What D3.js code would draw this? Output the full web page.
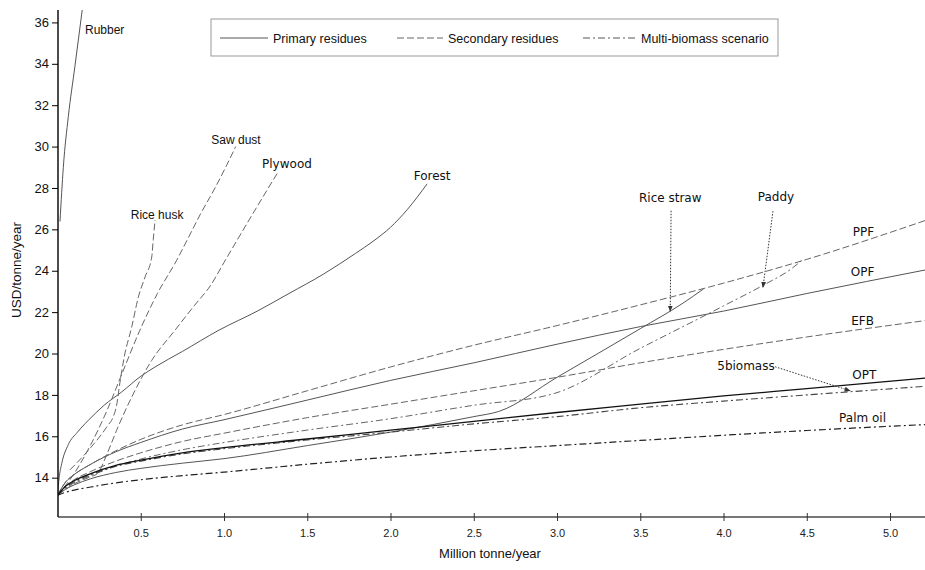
<!DOCTYPE html>
<html><head><meta charset="utf-8">
<script src="https://cdn.jsdelivr.net/npm/d3@7"></script>
<style>body{margin:0;background:#fff}</style>
</head><body>
<svg id="c" width="925" height="570"></svg>
<script>
// ---- data ----
const yTicks = [14,16,18,20,22,24,26,28,30,32,34,36];
const xTicks = [0.5,1.0,1.5,2.0,2.5,3.0,3.5,4.0,4.5,5.0];
const legendLabels = ["Primary residues","Secondary residues","Multi-biomass scenario"];

const rubber = [[0.015,26.38],[0.035,29.0],[0.065,31.45],[0.105,33.9],[0.15,36.7]];
const forest = [[0,13.15],[0.01,14.0],[0.025,14.67],[0.065,15.6],[0.12,16.2],[0.185,16.77],[0.28,17.5],[0.385,18.14],[0.5,18.9],[0.586,19.35],[0.75,20.1],[0.97,21.13],[1.2,22.05],[1.39,22.9],[1.6,23.85],[1.79,24.84],[1.9,25.45],[2.0,26.1],[2.1,26.95],[2.22,28.2]];
const opf = [[0,13.15],[0.05,13.8],[0.1,14.15],[0.2,14.65],[0.35,15.25],[0.5,15.7],[0.75,16.35],[1.0,16.8],[1.5,17.75],[2.0,18.7],[2.5,19.55],[3.0,20.45],[3.5,21.3],[4.0,22.05],[4.5,22.9],[5.22,24.05]];
const opt = [[0,13.15],[0.05,13.6],[0.1,13.85],[0.2,14.2],[0.35,14.6],[0.5,14.85],[0.75,15.2],[1.0,15.45],[1.5,15.87],[2.0,16.3],[2.5,16.72],[3.0,17.15],[3.5,17.55],[4.0,17.95],[4.5,18.3],[5.22,18.82]];
const riceStraw = [[0,13.15],[0.05,13.45],[0.1,13.65],[0.2,13.95],[0.35,14.25],[0.5,14.45],[0.75,14.7],[1.0,14.92],[1.5,15.55],[2.0,16.2],[2.5,16.95],[2.65,17.2],[3.0,18.85],[3.5,21.2],[3.75,22.4],[3.88,23.12]];

const riceHusk = [[0.075,14.38],[0.185,15.32],[0.3,16.5],[0.335,16.95],[0.355,17.5],[0.375,18.6],[0.4,19.8],[0.446,21.29],[0.486,22.74],[0.526,23.7],[0.566,24.67],[0.575,25.5],[0.586,26.45]];
const sawDust = [[0,13.15],[0.1,14.2],[0.2,15.6],[0.3,17.3],[0.386,19.0],[0.495,21.13],[0.6,22.9],[0.716,24.51],[0.786,25.6],[0.856,26.7],[0.946,28.0],[1.016,29.1],[1.07,30.0]];
const plywood = [[0,13.15],[0.1,13.7],[0.2,14.05],[0.24,14.2],[0.3,15.2],[0.355,16.29],[0.446,17.9],[0.566,19.67],[0.706,21.13],[0.82,22.3],[0.92,23.3],[1.0,24.4],[1.186,26.93],[1.326,28.79]];
const ppf = [[0,13.15],[0.05,13.8],[0.1,14.15],[0.2,14.65],[0.35,15.3],[0.5,15.85],[0.75,16.55],[1.0,17.05],[1.5,18.2],[2.0,19.35],[2.5,20.4],[3.0,21.35],[3.5,22.35],[4.0,23.4],[4.5,24.55],[5.22,26.45]];
const efb = [[0,13.15],[0.05,13.6],[0.1,13.9],[0.2,14.3],[0.35,14.8],[0.5,15.2],[0.75,15.75],[1.0,16.15],[1.5,16.9],[2.0,17.55],[2.5,18.2],[3.0,18.85],[3.5,19.55],[4.0,20.2],[4.5,20.8],[5.22,21.6]];

const paddy = [[0,13.15],[0.05,13.5],[0.1,13.75],[0.2,14.1],[0.35,14.55],[0.5,14.9],[0.75,15.35],[1.0,15.7],[1.5,16.3],[2.0,16.85],[2.5,17.5],[2.98,18.06],[3.5,20.25],[4.0,22.3],[4.25,23.35],[4.4,24.05],[4.47,24.5]];
const fiveBiomass = [[0,13.15],[0.05,13.55],[0.1,13.8],[0.2,14.15],[0.35,14.55],[0.5,14.8],[0.75,15.15],[1.0,15.4],[1.5,15.82],[2.0,16.2],[2.5,16.6],[3.0,16.95],[3.5,17.38],[4.0,17.7],[4.5,18.0],[5.22,18.42]];
const palmOil = [[0,13.15],[0.05,13.3],[0.1,13.4],[0.2,13.55],[0.35,13.75],[0.5,13.9],[0.75,14.1],[1.0,14.27],[1.5,14.65],[2.0,15.0],[2.5,15.3],[3.0,15.55],[3.5,15.8],[4.0,16.05],[4.5,16.28],[5.22,16.57]];

// labels: [text, x, y (centre), font, anchor] in data units
const curveLabels = [
  ["Rubber",0.165,35.64,"Liberation Sans","start"],
  ["Rice husk",0.598,26.7,"Liberation Sans","middle"],
  ["Saw dust",1.072,30.32,"Liberation Sans","middle"],
  ["Plywood",1.378,29.16,"DejaVu Sans","middle"],
  ["Forest",2.25,28.59,"DejaVu Sans","middle"],
  ["Rice straw",3.68,27.53,"DejaVu Sans","middle"],
  ["Paddy",4.315,27.58,"DejaVu Sans","middle"],
  ["PPF",4.84,25.87,"DejaVu Sans","middle"],
  ["OPF",4.835,23.94,"DejaVu Sans","middle"],
  ["EFB",4.835,21.57,"DejaVu Sans","middle"],
  ["5biomass",4.135,19.4,"DejaVu Sans","middle"],
  ["OPT",4.845,18.96,"DejaVu Sans","middle"],
  ["Palm oil",4.835,16.88,"DejaVu Sans","middle"]
];
// dotted arrows: [x1,y1,x2,y2]
const arrows = [[3.685,26.9,3.68,22.05],[4.297,26.88,4.237,23.2],[4.31,19.36,4.76,18.2]];

// ---- chart ----
const svg = d3.select("#c");
const x = d3.scaleLinear().domain([0,5.21]).range([57.5,925]);
const y = d3.scaleLinear().domain([12.1,36.6]).range([517,10]);

const defs = svg.append("defs");
defs.append("clipPath").attr("id","clip").append("rect").attr("x",58).attr("y",10).attr("width",870).attr("height",507);
defs.append("marker").attr("id","arr").attr("viewBox","0 0 10 10").attr("refX",9).attr("refY",5)
  .attr("markerWidth",6).attr("markerHeight",6).attr("orient","auto")
  .append("path").attr("d","M0,1 L10,5 L0,9 z").attr("fill","#333");

const line = d3.line().x(d=>x(d[0])).y(d=>y(d[1])).curve(d3.curveMonotoneX);
const DASH = "7,3", DOT = "7,3,2,3";
const series = [
  [rubber,"#555",null,1],[forest,"#555",null,1],[opf,"#555",null,1],[riceStraw,"#555",null,1],
  [riceHusk,"#666",DASH,1],[sawDust,"#666",DASH,1],[plywood,"#666",DASH,1],[ppf,"#666",DASH,1],[efb,"#666",DASH,1],
  [paddy,"#666",DOT,1],[fiveBiomass,"#444",DOT,1.1],[palmOil,"#222",DOT,1.2],[opt,"#111",null,1.3]
];
const g = svg.append("g").attr("clip-path","url(#clip)");
series.forEach(s=>{
  g.append("path").attr("d",line(s[0])).attr("fill","none").attr("stroke",s[1])
   .attr("stroke-width",s[3]).attr("stroke-dasharray",s[2]);
});

// axes
const xAxis = svg.append("g").attr("transform","translate(0,517)")
  .call(d3.axisBottom(x).tickValues(xTicks).tickFormat(d3.format(".1f")).tickSize(4).tickSizeOuter(0));
xAxis.select(".domain").attr("stroke","#777").attr("stroke-width",2).attr("d","M58,0H925");
xAxis.selectAll(".tick line").attr("y1",-4).attr("y2",4).attr("stroke","#333");
xAxis.selectAll("text").attr("font-family","Liberation Sans").attr("font-size",11).attr("fill","#222").attr("dy","1.2em");

const yAxis = svg.append("g").attr("transform","translate(58,0)")
  .call(d3.axisLeft(y).tickValues(yTicks).tickSize(6).tickSizeOuter(0));
yAxis.select(".domain").attr("stroke","#111").attr("stroke-width",1.5).attr("d","M0,10V517");
yAxis.selectAll("text").attr("font-family","Liberation Sans").attr("font-size",13).attr("fill","#111").attr("x",-9);

svg.append("text").attr("x",490).attr("y",558).attr("text-anchor","middle")
  .attr("font-family","Liberation Sans").attr("font-size",13).attr("fill","#111").text("Million tonne/year");
svg.append("text").attr("transform","translate(21,270) rotate(-90)").attr("text-anchor","middle")
  .attr("font-family","Liberation Sans").attr("font-size",13.5).attr("fill","#111").text("USD/tonne/year");

// curve labels
curveLabels.forEach(l=>{
  svg.append("text").attr("x",x(l[1])).attr("y",y(l[2])).attr("dy","0.35em").attr("text-anchor",l[4])
    .attr("font-family",l[3]).attr("font-size",12).attr("fill","#111").text(l[0]);
});
arrows.forEach(a=>{
  svg.append("line").attr("x1",x(a[0])).attr("y1",y(a[1])).attr("x2",x(a[2])).attr("y2",y(a[3]))
    .attr("stroke","#333").attr("stroke-width",1).attr("stroke-dasharray","1.5,1.5").attr("marker-end","url(#arr)");
});

// legend
const lg = svg.append("g");
lg.append("rect").attr("x",211).attr("y",19).attr("width",567).attr("height",37)
  .attr("fill","#fff").attr("stroke","#999").attr("stroke-width",1);
const legItems = [[220,268,273,null,"#555"],[397,443,448,DASH,"#666"],[583,637,641,DOT,"#555"]];
legItems.forEach((it,i)=>{
  lg.append("line").attr("x1",it[0]).attr("x2",it[1]).attr("y1",38).attr("y2",38)
    .attr("stroke",it[4]).attr("stroke-width",1).attr("stroke-dasharray",it[3]);
  lg.append("text").attr("x",it[2]).attr("y",42.5).attr("font-family","Liberation Sans")
    .attr("font-size",12.5).attr("fill","#111").text(legendLabels[i]);
});
</script>
</body></html>
